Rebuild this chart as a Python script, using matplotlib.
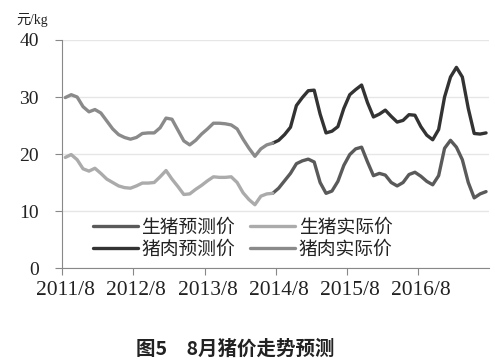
import matplotlib
matplotlib.use('Agg')
import matplotlib.pyplot as plt
import numpy as np

plt.rcParams['font.family'] = ['Liberation Serif', 'Noto Sans CJK SC', 'DejaVu Sans']

# 月份：2011/8 - 2017/7，共72个月
months = np.arange(72)
tick_labels = ['2011/8', '2012/8', '2013/8', '2014/8', '2015/8', '2016/8']

# 猪肉价格 (元/kg)
pork_actual = [29.9, 30.4, 30.0, 28.3, 27.4, 27.8, 27.2, 25.8, 24.4, 23.4,
               22.9, 22.6, 22.9, 23.6, 23.7, 23.7, 24.6, 26.3, 26.1, 24.2,
               22.3, 21.6, 22.4, 23.5, 24.4, 25.4, 25.4, 25.3, 25.1, 24.4,
               22.6, 21.0, 19.6, 20.9, 21.6, 21.9]
pork_forecast = [21.9, 22.4, 23.4, 24.7, 28.5, 29.9, 31.1, 31.2, 27.0, 23.7,
                 24.0, 24.8, 28.0, 30.4, 31.3, 32.1, 29.0, 26.5, 27.0, 27.7,
                 26.6, 25.6, 25.9, 26.9, 26.8, 24.8, 23.3, 22.5, 24.3, 30.0,
                 33.5, 35.2, 33.5, 28.0, 23.6, 23.5, 23.7]

# 生猪价格 (元/kg)
pig_actual = [19.4, 19.9, 19.0, 17.4, 17.0, 17.5, 16.6, 15.6, 15.0, 14.4,
              14.1, 14.0, 14.4, 14.9, 14.9, 15.0, 16.0, 17.1, 15.6, 14.3,
              12.9, 13.0, 13.8, 14.5, 15.3, 16.0, 15.9, 15.9, 16.0, 15.0,
              13.2, 12.0, 11.1, 12.6, 13.0, 13.1]
pig_forecast = [13.1, 14.0, 15.3, 16.6, 18.3, 18.8, 19.1, 18.6, 15.0, 13.1,
                13.5, 15.2, 18.0, 19.9, 20.9, 21.2, 18.6, 16.2, 16.6, 16.3,
                15.0, 14.4, 15.0, 16.4, 16.8, 16.1, 15.2, 14.6, 16.2, 21.0,
                22.4, 21.2, 19.0, 15.0, 12.3, 13.0, 13.4]

n_act = len(pork_actual)

fig = plt.figure(figsize=(4.95, 3.61), dpi=100)
ax = fig.add_axes([0.1259, 0.2576, 0.862, 0.6316])

lw = 2.4
l1, = ax.plot(months[n_act - 1:], pig_forecast, color='#5a5a5a', lw=lw, solid_capstyle='round')
l2, = ax.plot(months[:n_act], pig_actual, color='#ababab', lw=lw, solid_capstyle='round')
l3, = ax.plot(months[n_act - 1:], pork_forecast, color='#333333', lw=lw, solid_capstyle='round')
l4, = ax.plot(months[:n_act], pork_actual, color='#8a8a8a', lw=lw, solid_capstyle='round')

ax.set_xlim(-0.5, 71.5)
ax.set_ylim(0, 40)
ax.set_yticks([0, 10, 20, 30, 40])
ax.yaxis.grid(True, color='#e6e6e6', lw=1)
ax.set_axisbelow(True)

# 刻度线在分类边界，标签在分类中心
ax.set_xticks(np.arange(6) * 12 - 0.5)
ax.set_xticklabels([])
ax.set_xticks(np.arange(6) * 12, minor=True)
ax.set_xticklabels(tick_labels, minor=True, fontsize=15.5, color='#222222')
ax.tick_params(axis='x', which='major', length=5, color='#888888', direction='out')
ax.tick_params(axis='x', which='minor', length=0, pad=9)
ax.tick_params(axis='y', length=5, color='#888888', labelsize=14, pad=12, labelcolor='#222222')

for s in ['top', 'right']:
    ax.spines[s].set_visible(False)
for s in ['left', 'bottom']:
    ax.spines[s].set_color('#888888')

leg = ax.legend([l1, l3, l2, l4], ['生猪预测价', '猪肉预测价', '生猪实际价', '猪肉实际价'],
                ncol=2, frameon=False, loc='center left',
                bbox_to_anchor=(0.071, 0.1316), borderpad=0, borderaxespad=0,
                handlelength=2.4, handletextpad=0.2, columnspacing=0.8,
                labelspacing=0.05, prop={'family': ['Noto Sans CJK SC'], 'size': 13.5})
for t in leg.get_texts():
    t.set_color('#222222')

fig.text(16 / 495, 1 - 20 / 361, '元/kg', fontsize=10, va='center', ha='left',
         family=['Liberation Serif', 'Noto Sans CJK SC'], color='#222222')
fig.text(235 / 495, 1 - 349 / 361, '图5\u30008月猪价走势预测', fontsize=14, fontweight='bold',
         ha='center', va='center', family=['Noto Sans CJK SC', 'DejaVu Sans'], color='#222222')

fig.savefig('out.png', dpi=100)
